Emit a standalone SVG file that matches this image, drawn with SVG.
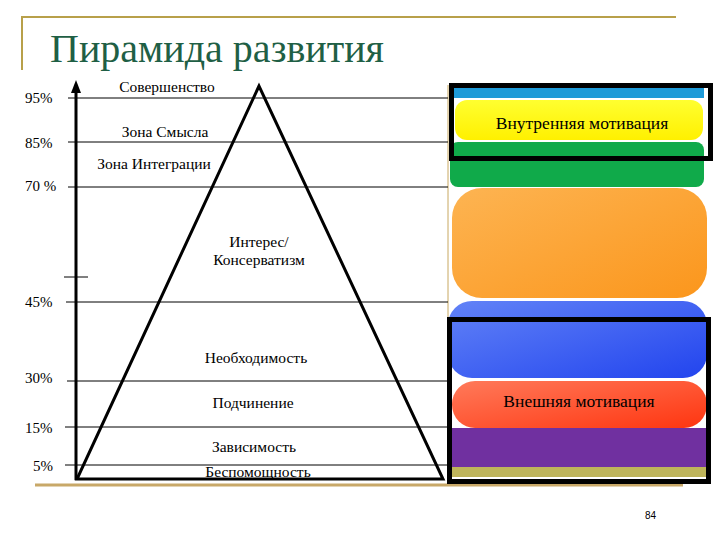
<svg xmlns="http://www.w3.org/2000/svg" width="720" height="540" viewBox="0 0 720 540">
<style>
.lbl{font-family:"Liberation Serif","DejaVu Serif",serif;font-size:15.5px;fill:#000}
.big{font-size:17.5px}
.pct{font-family:"Liberation Serif","DejaVu Serif",serif;font-size:15px;fill:#000}
.ttl{font-family:"Liberation Serif","DejaVu Serif",serif;font-size:40px;fill:#1f5f45}
.mid{text-anchor:middle}
.grid{stroke:#000;stroke-width:1;fill:none}
.frame{stroke:#000;stroke-width:5;fill:none}
</style>
<defs>
<linearGradient id="gOr" x1="0" y1="0" x2="1" y2="1"><stop offset="0" stop-color="#fdb452"/><stop offset="1" stop-color="#fb961c"/></linearGradient>
<linearGradient id="gBl" x1="0" y1="0" x2="1" y2="1"><stop offset="0" stop-color="#6283f7"/><stop offset="1" stop-color="#2244ee"/></linearGradient>
<linearGradient id="gRd" x1="0" y1="0" x2="1" y2="1"><stop offset="0" stop-color="#ff7a5a"/><stop offset="1" stop-color="#ff3510"/></linearGradient>
<linearGradient id="gYl" x1="0" y1="0" x2="0" y2="1"><stop offset="0" stop-color="#ffff30"/><stop offset="1" stop-color="#fff000"/></linearGradient>
</defs>
<rect width="720" height="540" fill="#fff"/>
<g id="title">
<path d="M22,70 V17 H676" stroke="#b8a04a" stroke-width="2" fill="none"/>
<text class="ttl" x="50" y="62">Пирамида развития</text>
</g>
<path d="M35,485 H683" stroke="#c8a868" stroke-width="3" fill="none"/>
<g id="bands">
<rect x="450" y="87" width="254" height="11" fill="#1e9ad8"/>
<rect x="455" y="100" width="248" height="40" rx="12" fill="url(#gYl)"/>
<rect x="450" y="142" width="254" height="45" rx="8" fill="#10aa4a"/>
<rect x="452" y="188" width="255" height="110" rx="30" fill="url(#gOr)"/>
<rect x="448" y="301" width="259" height="77" rx="24" fill="url(#gBl)"/>
<rect x="452" y="381" width="255" height="47" rx="23" fill="url(#gRd)"/>
<rect x="452" y="428" width="254" height="39" fill="#7030a0"/>
<rect x="452" y="467" width="254" height="10" fill="#beb45a"/>
</g>
<line x1="448" y1="85" x2="448" y2="480" stroke="#c8a860" stroke-width="1"/>
<g id="connectors">
<line class="grid" x1="68" y1="98" x2="448" y2="98"/>
<line class="grid" x1="68" y1="142" x2="448" y2="142"/>
<line class="grid" x1="68" y1="187" x2="448" y2="187"/>
<line class="grid" x1="64" y1="277" x2="88" y2="277"/>
<line class="grid" x1="66" y1="302" x2="448" y2="302"/>
<line class="grid" x1="67" y1="381" x2="448" y2="381"/>
<line class="grid" x1="65" y1="427" x2="448" y2="427"/>
<line class="grid" x1="65" y1="465" x2="448" y2="465"/>
<line x1="76" y1="480" x2="76" y2="90" stroke="#000" stroke-width="3"/>
<polygon points="76,80 71,93 81,93" fill="#000"/>
</g>
<g id="pyramid">
<path d="M259,86 L77,479 H443 Z" fill="none" stroke="#000" stroke-width="3" stroke-linejoin="miter"/>
</g>
<g id="pct">
<text class="pct" x="25" y="103">95%</text>
<text class="pct" x="25" y="148">85%</text>
<text class="pct" x="25" y="191">70 %</text>
<text class="pct" x="25" y="307">45%</text>
<text class="pct" x="25" y="383">30%</text>
<text class="pct" x="25" y="433">15%</text>
<text class="pct" x="33" y="471">5%</text>
</g>
<g id="levels">
<text class="lbl mid" x="167" y="92">Совершенство</text>
<text class="lbl mid" x="165" y="137">Зона Смысла</text>
<text class="lbl mid" x="154" y="169">Зона Интеграции</text>
<text class="lbl mid" x="259" y="247">Интерес/</text>
<text class="lbl mid" x="259" y="265">Консерватизм</text>
<text class="lbl mid" x="256" y="363">Необходимость</text>
<text class="lbl mid" x="253" y="408">Подчинение</text>
<text class="lbl mid" x="254" y="452">Зависимость</text>
<text class="lbl mid" x="258" y="477">Беспомощность</text>
</g>
<g id="inner">
<rect class="frame" x="451.5" y="85.5" width="259" height="73"/>
<text class="lbl big mid" x="582" y="129">Внутренняя мотивация</text>
</g>
<g id="outer">
<rect class="frame" x="449.5" y="319.5" width="259" height="162"/>
<text class="lbl big mid" x="579" y="407">Внешняя мотивация</text>
</g>
<text x="645" y="519" font-family="'Liberation Sans',Arial,sans-serif" font-size="10" fill="#000">84</text>
</svg>
